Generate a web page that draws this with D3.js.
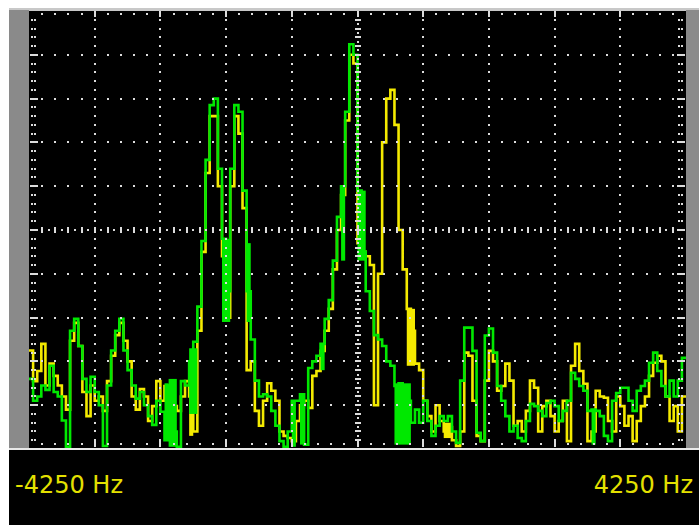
<!DOCTYPE html>
<html>
<head>
<meta charset="utf-8">
<script src="https://cdn.jsdelivr.net/npm/d3@7/dist/d3.min.js"></script>
<style>
  html, body { margin: 0; padding: 0; background: #ffffff; }
  svg { display: block; }
</style>
</head>
<body>
<svg id="chart" width="699" height="525"></svg>
<script>
// ---- data (spectrum level in 1/10 division units, 0 = bottom, 100 = top) ----
const freqMin = -4250;
const freqMax = 4250;
const tickLabels = ["-4250 Hz", "4250 Hz"];

const green = [
  16, 11, 12, 14.5, 13.5, 19, 13, 12, 6.5, 0.5,
  27, 29.7, 23.5, 16, 13, 16.5, 13, 10, 0.7, 14.5,
  22.5, 27, 29.7, 22.5, 18, 14.5, 11.5, 13, 10, 7.5,
  5.5, 11, 8.5, 2, 14.5, 4, 0.5, 15.5, 14.5, 20,
  24.5, 32.5, 47.5, 66, 78.5, 80, 64, 48, 36, 64,
  78.5, 77, 59, 36, 25, 15.6, 12, 12.5, 12, 8.7,
  5.3, 1.8, 0.5, 4, 11, 11, 12.5, 1, 18.5, 20,
  21.3, 24, 29.7, 34, 43, 53, 60, 77, 92.4, 90,
  59, 45, 36, 31.5, 26, 25, 23.5, 20, 19, 14.4,
  15, 13, 11, 6, 9, 6, 11, 6.4, 3, 5.3,
  7.5, 6.4, 7.5, 4, 1.4, 15.6, 27.7, 27.7, 22.4, 3.7,
  1.8, 25.9, 27.5, 22, 14.4, 11, 7.5, 4, 5.3, 2.5,
  1.8, 6.4, 10.3, 9.8, 8.7, 7.5, 10.5, 11, 9.8, 6.4,
  8.7, 11, 17.4, 16, 14.4, 13.3, 8.7, 9, 8.7, 7.5,
  3, 1.8, 11, 12.8, 14, 14, 11, 8.7, 13.3, 14.4,
  15.6, 19.7, 22, 17.8, 14.4, 12, 15.6, 12, 15.6, 20.8
];

const yellow = [
  22.5, 15.5, 17.8, 24, 14.5, 19.5, 16.7, 14.5, 12, 9,
  24.7, 28.8, 23.5, 13, 7.5, 14.5, 11, 12, 8.7, 15.5,
  21.3, 26, 28.8, 24.7, 20, 12, 9, 13.7, 12, 6.4,
  9.8, 15.5, 11, 14.4, 12, 9.8, 8.7, 12, 15.5, 12,
  4, 27, 45, 63, 76, 76, 60, 44, 30, 60,
  76, 72, 55, 18, 20, 8.7, 5.3, 11, 15, 13.3,
  11, 4, 3, 2.5, 1.8, 6.4, 10, 11, 9.4, 16.7,
  17.8, 22.4, 27, 32, 41, 50, 58, 75, 90, 88,
  47, 45, 44, 42, 10, 40, 70, 80, 82, 74,
  50, 41, 32, 27, 19.5, 18, 11, 7.5, 4, 10,
  6.4, 4, 5, 2, 0.7, 4, 22, 21.3, 11, 3,
  1.8, 15.6, 22.4, 20, 13.3, 14.4, 19.5, 15.6, 5.3, 6.4,
  4, 8.7, 15.6, 14, 4, 9.8, 11, 7.5, 4, 6.4,
  11, 1.8, 19, 24, 17.8, 14.9, 1.8, 4, 13.3, 12,
  11.7, 6.4, 4, 12, 9.8, 5.3, 7.5, 1.8, 6.4, 9.8,
  12, 16.7, 19.7, 21.3, 20, 12, 6.4, 9.8, 4, 12
];

// bins where the trace flickers between two levels: [firstBin, lastBin, low, high]
const greenFill = [
  [33, 33, 2, 15], [34, 35, 0.5, 16], [39, 40, 8, 23], [47, 48, 29, 48],
  [53, 53, 29, 47], [64, 64, 0.5, 11], [66, 66, 1, 12.5], [71, 71, 18, 24],
  [76, 76, 43, 60], [80, 81, 43, 59], [89, 92, 1, 15], [137, 137, 1, 9]
];
const yellowFill = [
  [39, 39, 3, 18], [92, 93, 19, 32], [101, 102, 2.5, 6]
];

// ---- drawing ----
const svg = d3.select("#chart");
const W = 699, H = 525;
const plot = { left: 29, right: 686, top: 11, bottom: 449 };

const x = d3.scaleLinear().domain([freqMin, freqMax]).range([plot.left, plot.right]);
const y = d3.scaleLinear().domain([0, 100]).range([plot.bottom, plot.top]);

// frame
svg.append("rect").attr("x", 9).attr("y", 8).attr("width", W - 9).attr("height", 3).attr("fill", "#c8c8c8");
svg.append("rect").attr("x", 9).attr("y", 10).attr("width", plot.left - 9).attr("height", plot.bottom - 10).attr("fill", "#8a8a8a");
svg.append("rect").attr("x", plot.right).attr("y", 10).attr("width", W - plot.right).attr("height", plot.bottom - 10).attr("fill", "#8a8a8a");
svg.append("rect").attr("x", plot.left).attr("y", plot.top).attr("width", plot.right - plot.left).attr("height", plot.bottom - plot.top).attr("fill", "#000");
svg.append("rect").attr("x", 9).attr("y", plot.bottom).attr("width", W - 9).attr("height", H - plot.bottom).attr("fill", "#000");

const binW = (freqMax - freqMin) / green.length;
const edge = i => freqMin + i * binW;

const plotG = svg.append("g");
plotG.append("clipPath").attr("id", "clip").append("rect")
  .attr("x", plot.left).attr("y", plot.top)
  .attr("width", plot.right - plot.left).attr("height", plot.bottom - plot.top);

function drawSeries(values, fills, color) {
  const g = plotG.append("g").attr("clip-path", "url(#clip)");
  g.selectAll("rect.fill").data(fills).join("rect")
    .attr("class", "fill")
    .attr("x", d => x(edge(d[0])))
    .attr("width", d => x(edge(d[1] + 1)) - x(edge(d[0])))
    .attr("y", d => y(d[3]))
    .attr("height", d => y(d[2]) - y(d[3]))
    .attr("fill", color);
  const pts = values.map((v, i) => [edge(i), v]);
  pts.push([edge(values.length), values[values.length - 1]]);
  const line = d3.line().x(d => x(d[0])).y(d => y(d[1])).curve(d3.curveStepAfter);
  g.append("path").attr("d", line(pts))
    .attr("fill", "none").attr("stroke", color).attr("stroke-width", 2.6)
    .attr("stroke-linejoin", "miter");
}
drawSeries(yellow, yellowFill, "#f4ea00");
drawSeries(green, greenFill, "#00e800");

// grid
const grid = svg.append("g").attr("fill", "#dcdcdc").attr("shape-rendering", "crispEdges");
const nDiv = 10;
const fStep = (freqMax - freqMin) / nDiv;
const vStep = 100 / nDiv;
function dot(px, py, w = 2, h = 2) {
  grid.append("rect").attr("x", Math.round(px - w / 2)).attr("y", Math.round(py - h / 2))
    .attr("width", w).attr("height", h);
}
// major lines (non-centre)
for (let k = 1; k < nDiv; k++) {
  if (k === 5) continue;
  const gx = x(freqMin + k * fStep);
  const gy = y(k * vStep);
  for (let j = 1; j < nDiv * 5; j++) {
    dot(gx, y(j * vStep / 5));
    dot(x(freqMin + j * fStep / 5), gy);
  }
}
// centre lines
const cx = x(freqMin + 5 * fStep), cy = y(5 * vStep);
for (let j = 1; j < nDiv * 10; j++) {
  const py = y(j * vStep / 10);
  const px = x(freqMin + j * fStep / 10);
  if (j % 2 === 0) { dot(cx, py, 6, 2); dot(px, cy, 2, 6); }
  else { dot(cx, py); dot(px, cy); }
}
// edges
for (let j = 1; j < nDiv * 5; j++) {
  const px = x(freqMin + j * fStep / 5);
  const py = y(j * vStep / 5);
  const major = j % 5 === 0;
  dot(px, plot.top + 3, 2, major ? 6 : 2);
  dot(px, plot.bottom - 5, 2, major ? 6 : 2);
  if (major) {
    dot(plot.left + 5, py, 8, 2);
    dot(plot.right - 5, py, 8, 2);
  } else {
    dot(plot.left + 3, py); dot(plot.left + 6, py);
    dot(plot.right - 7, py); dot(plot.right - 4, py);
  }
}
svg.append("rect").attr("x", 9).attr("y", plot.bottom - 1).attr("width", W - 9).attr("height", 2).attr("fill", "#e8e8e8");

// labels
svg.append("text").attr("x", 15).attr("y", 493)
  .attr("font-family", "DejaVu Sans, Verdana, sans-serif").attr("font-size", 24)
  .attr("fill", "#e4e000").text(tickLabels[0]);
svg.append("text").attr("x", 693).attr("y", 493).attr("text-anchor", "end")
  .attr("font-family", "DejaVu Sans, Verdana, sans-serif").attr("font-size", 24)
  .attr("fill", "#e4e000").text(tickLabels[1]);
</script>
</body>
</html>
